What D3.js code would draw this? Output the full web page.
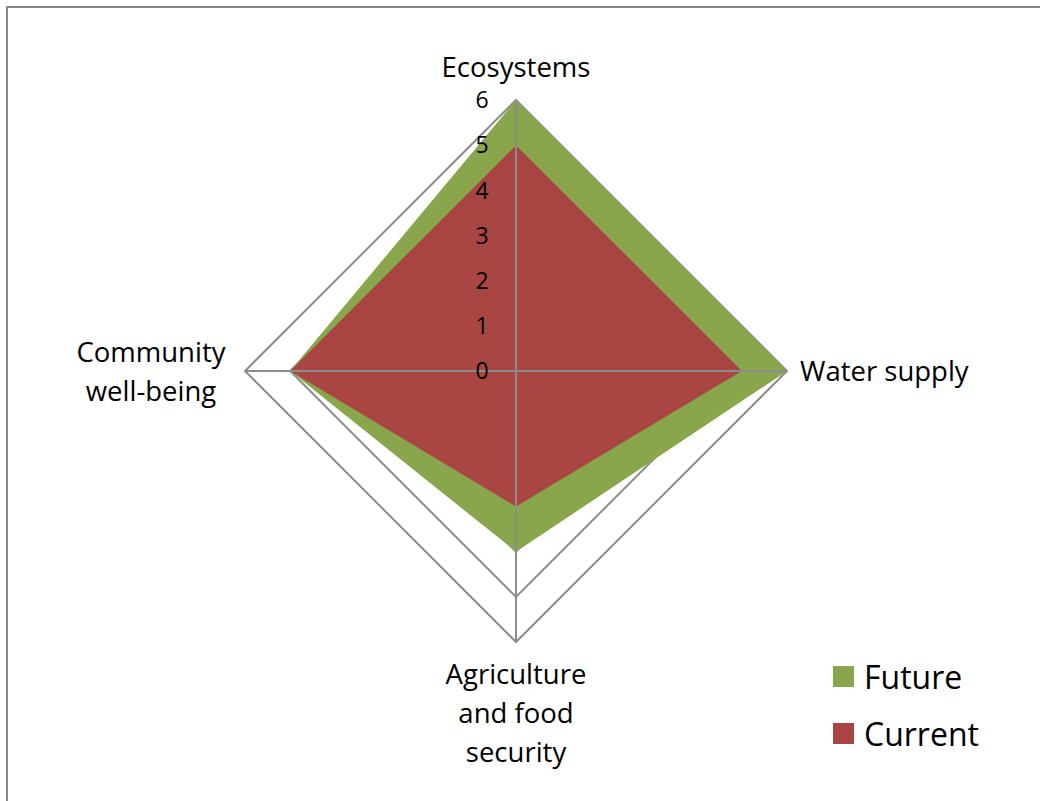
<!DOCTYPE html>
<html>
<head>
<meta charset="utf-8">
<script src="https://cdn.jsdelivr.net/npm/d3@7"></script>
<style>
  body { margin: 0; background: #fff; }
  text { font-family: "Open Sans", sans-serif; fill: #000; }
</style>
</head>
<body>
<div id="div_radar"></div>
<script>
// data
var categories = [["Ecosystems"], ["Water supply"], ["Agriculture", "and food", "security"], ["Community", "well-being"]];
var futureValues = [6, 6, 4, 5];
var currentValues = [5, 5, 3, 5];
var tickValues = [0, 1, 2, 3, 4, 5, 6];
var seriesNames = ["Future", "Current"];
var seriesColors = ["#8AA64C", "#A94644"];

var width = 1040, height = 801;
var cx = 516, cy = 371;

var svg = d3.select("#div_radar")
  .append("svg")
  .attr("width", width)
  .attr("height", height);

// outer frame (only left and top visible)
svg.append("path")
  .attr("d", "M7," + height + "V7H" + width)
  .attr("fill", "none")
  .attr("stroke", "#888")
  .attr("stroke-width", 2);

var r = d3.scaleLinear().domain([0, 6]).range([0, 271]);
var angle = d3.scalePoint()
  .domain(d3.range(categories.length))
  .range([0, 2 * Math.PI * (categories.length - 1) / categories.length]);

function pt(i, v) {
  var a = angle(i);
  return [cx + r(v) * Math.sin(a), cy - r(v) * Math.cos(a)];
}

var line = d3.line();

// gridlines
svg.selectAll(".grid")
  .data(tickValues.filter(function(d) { return d > 0; }))
  .enter()
  .append("path")
  .attr("class", "grid")
  .attr("d", function(t) {
    return line(categories.map(function(c, i) { return pt(i, t); })) + "Z";
  })
  .attr("fill", "none")
  .attr("stroke", "#8c8c8c")
  .attr("stroke-width", 2);

// filled series
var series = [futureValues, currentValues];
svg.selectAll(".area")
  .data(series)
  .enter()
  .append("path")
  .attr("class", "area")
  .attr("d", function(vals) {
    return line(vals.map(function(v, i) { return pt(i, v); })) + "Z";
  })
  .attr("fill", function(d, i) { return seriesColors[i]; });

// spokes
svg.selectAll(".spoke")
  .data(categories)
  .enter()
  .append("line")
  .attr("class", "spoke")
  .attr("x1", cx).attr("y1", cy)
  .attr("x2", function(d, i) { return pt(i, 6)[0]; })
  .attr("y2", function(d, i) { return pt(i, 6)[1]; })
  .attr("stroke", "#8c8c8c")
  .attr("stroke-width", 2);

// tick labels along the top spoke
svg.selectAll(".tick")
  .data(tickValues)
  .enter()
  .append("text")
  .attr("class", "tick")
  .attr("x", cx - 34)
  .attr("y", function(d) { return cy - r(d); })
  .attr("dy", "0.36em")
  .attr("text-anchor", "middle")
  .attr("font-size", "23px")
  .text(function(d) { return d; });

// category labels
var labelPos = [
  {x: 516, y: 67, anchor: "middle"},
  {x: 800, y: 371, anchor: "start"},
  {x: 516, y: 674, anchor: "middle"},
  {x: 151, y: 352, anchor: "middle"}
];
var lineGap = 39;
svg.selectAll(".cat")
  .data(categories)
  .enter()
  .append("text")
  .attr("class", "cat")
  .attr("text-anchor", function(d, i) { return labelPos[i].anchor; })
  .attr("font-size", "27.5px")
  .each(function(d, i) {
    d3.select(this).selectAll("tspan")
      .data(d)
      .enter()
      .append("tspan")
      .attr("x", labelPos[i].x)
      .attr("y", function(s, k) { return labelPos[i].y + k * lineGap; })
      .attr("dy", "0.36em")
      .text(function(s) { return s; });
  });

// legend
var legend = svg.selectAll(".legend")
  .data(seriesNames)
  .enter()
  .append("g")
  .attr("class", "legend")
  .attr("transform", function(d, i) { return "translate(833," + (666 + i * 57) + ")"; });
legend.append("rect")
  .attr("width", 21).attr("height", 21)
  .attr("fill", function(d, i) { return seriesColors[i]; });
legend.append("text")
  .attr("x", 31).attr("y", 11)
  .attr("dy", "0.36em")
  .attr("font-size", "32px")
  .text(function(d) { return d; });
</script>
</body>
</html>
